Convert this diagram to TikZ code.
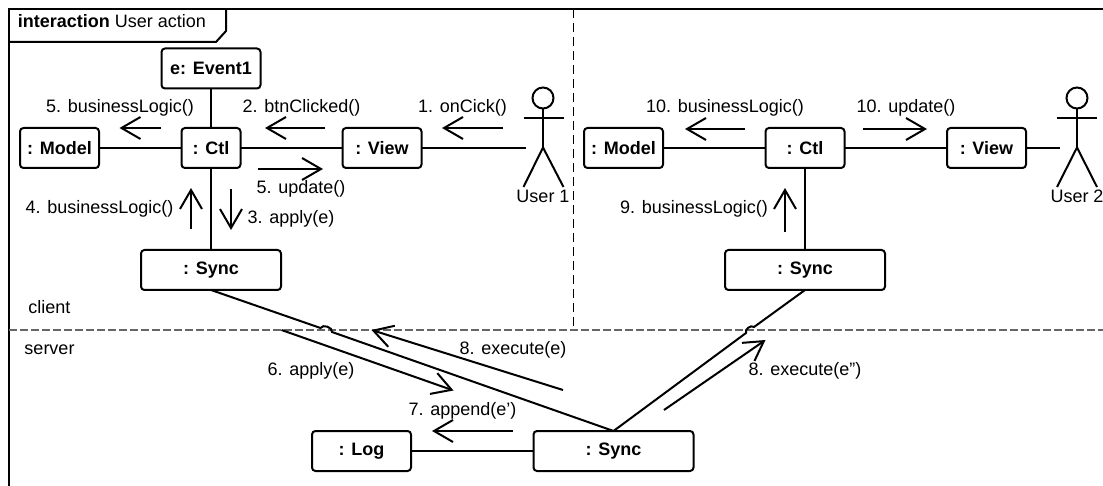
\documentclass[tikz,border=0pt]{standalone}
\usepackage{fontspec}
\setmainfont{Liberation Sans}
\usetikzlibrary{arrows.meta}

\begin{document}
\begin{tikzpicture}[x=1pt,y=-1pt,>={Straight Barb[length=19pt,width=22pt]},line width=2pt,
  main node/.style={draw,rounded corners=3.5pt,inner sep=0pt,outer sep=0pt,minimum height=40pt,font=\fontsize{18}{21}\selectfont\bfseries},
  msg node/.style={inner sep=0pt,text height=15pt,text depth=1pt,font=\fontsize{18}{21}\selectfont},
  head node/.style={circle,draw,inner sep=0pt,outer sep=0pt,minimum size=21pt},
  msg/.style={->,line width=2pt},
  client line/.style={line width=1pt,dash pattern=on 9pt off 5pt},
  server line/.style={line width=1.6pt,dash pattern=on 7.5pt off 3.5pt,draw=black!60}]
  \useasboundingbox (0,0) rectangle (1103,486);

  % frame
  \coordinate (frame_bl) at (9,486);
  \coordinate (frame_tl) at (9,9);
  \coordinate (frame_tr) at (1103,9);
  \coordinate (tab_l) at (9,42);
  \coordinate (tab_b) at (216,42);
  \coordinate (tab_r) at (226,31);
  \coordinate (tab_t) at (226,9);
  \coordinate (split_t) at (573,9);
  \coordinate (split_b) at (573,330);
  \coordinate (split_l) at (9,330);
  \coordinate (split_r) at (1103,330);
  \draw (frame_bl) -- (frame_tl) -- (frame_tr);
  \draw (tab_l) -- (tab_b) -- (tab_r) -- (tab_t);
  \draw[client line] (split_t) -- (split_b);
  \draw[server line] (split_l) -- (split_r);
  \node[msg node] (title) at (112,21) {\textbf{interaction} User action};
  \node[msg node] (client) at (49.5,306) {client};
  \node[msg node] (server) at (49.5,347) {server};

  % client 1
  \node[main node,minimum width=59pt] (ctl_a) at (211,148) {: Ctl};
  \node[main node,minimum width=99pt] (event) [above of=ctl_a,node distance=79.5pt] {e: Event1};
  \node[main node,minimum width=79pt] (model_a) [left of=ctl_a,node distance=151.5pt] {: Model};
  \node[main node,minimum width=79pt] (view_a) [right of=ctl_a,node distance=171pt] {: View};
  \node[main node,minimum width=140pt] (sync_a) [below of=ctl_a,node distance=122pt] {: Sync};
  \node[head node] (head_a) at (543,98) {};
  \node[msg node] (user_a) [below of=head_a,node distance=98pt] {User 1};
  \coordinate (hand_a) at (526,148);
  \draw (event) -- (ctl_a);
  \draw (model_a) -- (ctl_a);
  \draw (ctl_a) -- (view_a);
  \draw (ctl_a) -- (sync_a);
  \draw (view_a) -- (hand_a);
  \draw (head_a.south) -- ++(0,39) coordinate (hip_a);
  \draw (523.5,118) -- (563.5,118);
  \draw (523.5,187) -- (hip_a) -- (563.5,187);

  % client 2
  \node[main node,minimum width=79pt] (ctl_b) at (805,148) {: Ctl};
  \node[main node,minimum width=79pt] (model_b) [left of=ctl_b,node distance=181.5pt] {: Model};
  \node[main node,minimum width=79pt] (view_b) [right of=ctl_b,node distance=181.5pt] {: View};
  \node[main node,minimum width=160pt] (sync_b) [below of=ctl_b,node distance=122pt] {: Sync};
  \node[head node] (head_b) at (1077,98) {};
  \node[msg node] (user_b) [below of=head_b,node distance=98pt] {User 2};
  \coordinate (hand_b) at (1060,148);
  \draw (model_b) -- (ctl_b);
  \draw (ctl_b) -- (view_b);
  \draw (ctl_b) -- (sync_b);
  \draw (view_b) -- (hand_b);
  \draw (head_b.south) -- ++(0,39) coordinate (hip_b);
  \draw (1057,118) -- (1097,118);
  \draw (1057,187) -- (hip_b) -- (1097,187);

  % server
  \node[main node,minimum width=160pt] (sync_c) at (613.5,451) {: Sync};
  \node[main node,minimum width=99pt] (log) [left of=sync_c,node distance=252pt] {: Log};
  \coordinate (jump_a_in) at (320.5,328);
  \coordinate (jump_a_out) at (332,332);
  \coordinate (jump_b_in) at (754,327);
  \coordinate (jump_b_out) at (746,333);
  \draw (log) -- (sync_c);
  \draw (sync_a.south) -- (jump_a_in) to[bend left=80] (jump_a_out) -- (sync_c.north);
  \draw (sync_b.south) -- (jump_b_in) to[bend right=80] (jump_b_out) -- (sync_c.north);

  % messages
  \coordinate (m1s) at (503,128);     \coordinate (m1e) at (442,128);
  \coordinate (m2s) at (325,128);     \coordinate (m2e) at (265,128);
  \coordinate (m3s) at (231,189);     \coordinate (m3e) at (231,230);
  \coordinate (m4s) at (191,229);     \coordinate (m4e) at (191,188);
  \coordinate (m5s) at (161,128);     \coordinate (m5e) at (119.5,128);
  \coordinate (m5us) at (258,169);    \coordinate (m5ue) at (323,169);
  \coordinate (m6s) at (281.5,330);   \coordinate (m6e) at (453.5,390.5);
  \coordinate (m7s) at (513,431);     \coordinate (m7e) at (432,431);
  \coordinate (m8s) at (563,390);     \coordinate (m8e) at (371.5,330);
  \coordinate (m8bs) at (664,410);    \coordinate (m8be) at (765.5,340);
  \coordinate (m9s) at (785,232);     \coordinate (m9e) at (785,188);
  \coordinate (m10s) at (744.5,129);  \coordinate (m10e) at (685,129);
  \coordinate (m10us) at (862.5,129); \coordinate (m10ue) at (927,129);
  \foreach \a/\b in {m1s/m1e,m2s/m2e,m3s/m3e,m4s/m4e,m5s/m5e,m5us/m5ue,m6s/m6e,m7s/m7e,m8s/m8e,m8bs/m8be,m9s/m9e,m10s/m10e,m10us/m10ue}
    \draw[msg] (\a) -- (\b);
  \node[msg node] (l1) at (462.5,106) {1. onCick()};
  \node[msg node] (l2) at (301.5,106) {2. btnClicked()};
  \node[msg node] (l3) at (291,217) {3. apply(e)};
  \node[msg node] (l4) at (99.5,207) {4. businessLogic()};
  \node[msg node] (l5) at (120,106) {5. businessLogic()};
  \node[msg node] (l5u) at (301,187) {5. update()};
  \node[msg node] (l6) at (311,368) {6. apply(e)};
  \node[msg node] (l7) at (462.5,408) {7. append(e')};
  \node[msg node] (l8) at (513,347.5) {8. execute(e)};
  \node[msg node] (l8b) at (805,368) {8. execute(e'')};
  \node[msg node] (l9) at (694,207) {9. businessLogic()};
  \node[msg node] (l10) at (725,106) {10. businessLogic()};
  \node[msg node] (l10u) at (906,106) {10. update()};
\end{tikzpicture}
\end{document}
